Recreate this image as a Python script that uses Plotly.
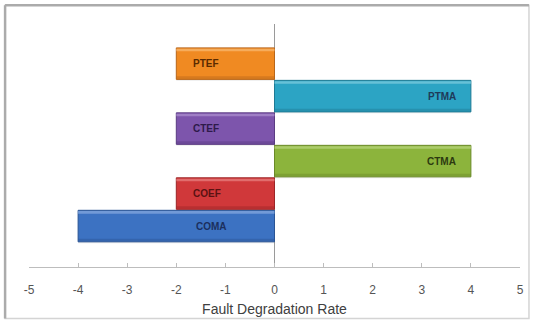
import plotly.graph_objects as go

# Fault degradation rate per fault type (bottom to top)
categories = ["COMA", "COEF", "CTMA", "CTEF", "PTMA", "PTEF"]
rates = [-4, -2, 4, -2, 4, -2]
bar_colors = ["#3C72C2", "#D0383A", "#8CB43C", "#7D55AC", "#2CA4C4", "#F08A22"]
light_colors = ["#7FA4DC", "#E57A7B", "#B4D277", "#A889CC", "#77C8DC", "#F8B46A"]
edge_colors = ["#2A5494", "#9C2527", "#6A8A28", "#5B3C82", "#1E7A94", "#B8661A"]
label_colors = ["#1B2F5E", "#5A1212", "#2C3A10", "#2E1A4A", "#1E3A5A", "#5A2A00"]
x_ticks = [-5, -4, -3, -2, -1, 0, 1, 2, 3, 4, 5]

W, H = 536, 326
ML, MR, MT, MB = 29, 14, 24, 57
pw, ph = W - ML - MR, H - MT - MB

ypos = list(range(len(categories)))

fig = go.Figure()
# soft drop shadow
fig.add_trace(go.Bar(
    x=rates, y=[p - 0.05 for p in ypos], orientation="h", width=0.96,
    marker=dict(color="rgba(0,0,0,0.08)", line=dict(width=0)),
    hoverinfo="skip", showlegend=False,
))
# main bars
fig.add_trace(go.Bar(
    x=rates, y=ypos, orientation="h", width=0.97,
    marker=dict(color=bar_colors, line=dict(color=edge_colors, width=1)),
    hoverinfo="skip", showlegend=False,
))
# bevel: light strip along the top edge
fig.add_trace(go.Bar(
    x=rates, y=[p + 0.42 for p in ypos], orientation="h", width=0.08,
    marker=dict(color=light_colors, line=dict(width=0), opacity=0.8),
    hoverinfo="skip", showlegend=False,
))
# bevel: dark strip along the bottom edge
fig.add_trace(go.Bar(
    x=rates, y=[p - 0.43 for p in ypos], orientation="h", width=0.08,
    marker=dict(color=edge_colors, line=dict(width=0), opacity=0.45),
    hoverinfo="skip", showlegend=False,
))

# Category names written inside each bar
annotations = []
for i, (name, v) in enumerate(zip(categories, rates)):
    if name == "COMA":
        ax, anchor, shift = 0, "right", -46
    elif v < 0:
        ax, anchor, shift = v, "left", 15
    else:
        ax, anchor, shift = v, "right", -13
    annotations.append(dict(
        x=ax, y=i, xref="x", yref="y", text=name, showarrow=False,
        xanchor=anchor, yanchor="middle", xshift=shift,
        font=dict(family="Liberation Sans, Arial", size=10, color=label_colors[i],
                  weight="bold"),
    ))

# Frame around the chart
def px_x(px):
    return (px - ML) / pw

def px_y(py):
    return (H - MB - py) / ph

shapes = [
    dict(type="rect", xref="paper", yref="paper",
         x0=px_x(5), x1=px_x(531), y0=px_y(321), y1=px_y(5),
         line=dict(color="#D4D4D4", width=1.5), layer="below"),
    dict(type="line", xref="paper", yref="paper",
         x0=px_x(5), x1=px_x(5), y0=px_y(321), y1=px_y(5),
         line=dict(color="#ABABAB", width=2.5)),
    dict(type="line", xref="paper", yref="paper",
         x0=px_x(5), x1=px_x(531), y0=px_y(5), y1=px_y(5),
         line=dict(color="#ABABAB", width=2.5)),
]

fig.update_layout(
    width=W, height=H,
    margin=dict(l=ML, r=MR, t=MT, b=MB),
    paper_bgcolor="white",
    plot_bgcolor="white",
    barmode="overlay",
    annotations=annotations,
    shapes=shapes,
    xaxis=dict(
        range=[-5, 5],
        tickvals=x_ticks,
        ticktext=[str(t) for t in x_ticks],
        showgrid=False,
        zeroline=True, zerolinecolor="#9A9A9A", zerolinewidth=1,
        showline=True, linecolor="#BDBDBD", linewidth=1,
        ticks="inside", ticklen=4, tickcolor="#BDBDBD",
        ticklabelstandoff=12,
        tickfont=dict(family="Liberation Sans, Arial", size=12, color="#555555"),
        title=dict(text="Fault Degradation Rate", standoff=7,
                   font=dict(family="Liberation Sans, Arial", size=14, color="#404040")),
        fixedrange=True,
    ),
    yaxis=dict(
        range=[-1.26, 6.22],
        visible=False,
        showgrid=False,
        zeroline=False,
        fixedrange=True,
    ),
)

fig.write_html("out.html")
